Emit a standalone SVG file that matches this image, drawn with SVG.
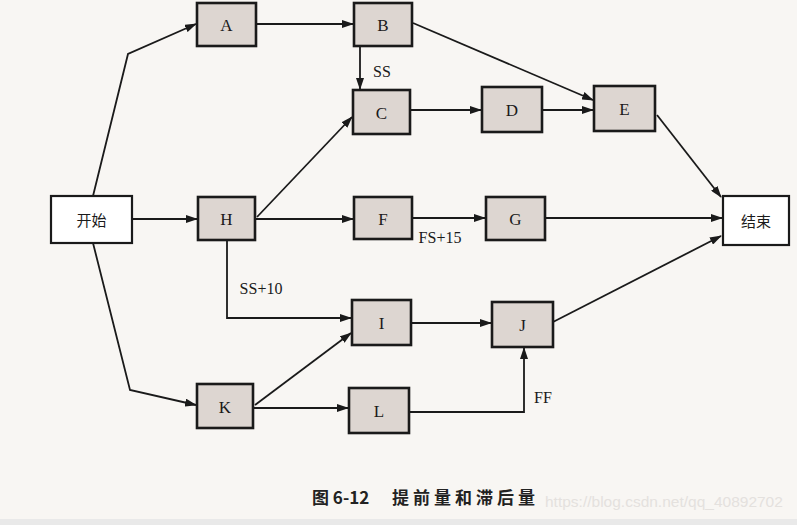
<svg xmlns="http://www.w3.org/2000/svg" width="797" height="525" viewBox="0 0 797 525">
<style>
.bg{fill:#f8f6f3}
.nd{fill:#ddd6d1;stroke:#1a1a1a;stroke-width:2.6}
.pl{fill:#ffffff;stroke:#1a1a1a;stroke-width:2.2}
.t{font-family:"Liberation Serif","Times New Roman",serif;font-size:17px;fill:#1a1a1a;text-anchor:middle;dominant-baseline:central}
.cn{font-family:"Noto Sans CJK SC","Noto Sans",sans-serif;font-size:15px;fill:#1a1a1a;text-anchor:middle;dominant-baseline:central}
.lb{font-family:"Liberation Serif","Times New Roman",serif;font-size:16px;fill:#1a1a1a;text-anchor:middle;dominant-baseline:central}
.cap{font-family:"Noto Sans CJK SC","Noto Sans",sans-serif;font-size:17px;font-weight:bold;fill:#222}
.wm{font-family:"Liberation Sans",Arial,sans-serif;font-size:15.5px;fill:#e4e1de}
.ln{fill:none;stroke:#1a1a1a;stroke-width:1.8}
</style>
<defs>
<marker id="ar" markerUnits="userSpaceOnUse" markerWidth="12" markerHeight="8" refX="11" refY="4" orient="auto">
<path d="M0,0 L12,4 L0,8 Z" fill="#1a1a1a"/>
</marker>
</defs>
<rect class="bg" x="0" y="0" width="797" height="525"/>
<rect x="0" y="519" width="797" height="6" fill="#e9e9e9"/>
<g id="connectors">
<polyline class="ln" points="93,196 128,54 196,24" marker-end="url(#ar)"/>
<line class="ln" x1="256" y1="24" x2="353" y2="24" marker-end="url(#ar)"/>
<line class="ln" x1="360" y1="46" x2="360" y2="89" marker-end="url(#ar)"/>
<line class="ln" x1="413" y1="23" x2="593" y2="100" marker-end="url(#ar)"/>
<line class="ln" x1="410" y1="110" x2="481" y2="110" marker-end="url(#ar)"/>
<line class="ln" x1="542" y1="110" x2="593" y2="110" marker-end="url(#ar)"/>
<line class="ln" x1="657" y1="115" x2="721" y2="197" marker-end="url(#ar)"/>
<line class="ln" x1="132" y1="219" x2="197" y2="219" marker-end="url(#ar)"/>
<line class="ln" x1="257" y1="217" x2="352" y2="117" marker-end="url(#ar)"/>
<line class="ln" x1="255" y1="219" x2="353" y2="219" marker-end="url(#ar)"/>
<line class="ln" x1="412" y1="218" x2="485" y2="218" marker-end="url(#ar)"/>
<line class="ln" x1="545" y1="218" x2="722" y2="218" marker-end="url(#ar)"/>
<polyline class="ln" points="227,240 227,318 351,318" marker-end="url(#ar)"/>
<polyline class="ln" points="93,243 130,390 196,405" marker-end="url(#ar)"/>
<line class="ln" x1="255" y1="405" x2="351" y2="333" marker-end="url(#ar)"/>
<line class="ln" x1="253" y1="408" x2="348" y2="408" marker-end="url(#ar)"/>
<line class="ln" x1="411" y1="323" x2="491" y2="323" marker-end="url(#ar)"/>
<polyline class="ln" points="409,412 524,412 524,348" marker-end="url(#ar)"/>
<line class="ln" x1="553" y1="322" x2="721" y2="236" marker-end="url(#ar)"/>
<text class="lb" x="382" y="71">SS</text>
<text class="lb" x="440" y="237">FS+15</text>
<text class="lb" x="261" y="288">SS+10</text>
<text class="lb" x="543" y="397">FF</text>
</g>
<g id="start"><rect class="pl" x="51" y="196" width="81" height="47"/><text class="cn" x="91.5" y="219.5">开始</text></g>
<g id="A"><rect class="nd" x="197" y="3" width="59" height="43"/><text class="t" x="226.5" y="25">A</text></g>
<g id="B"><rect class="nd" x="354" y="3" width="58" height="43"/><text class="t" x="383" y="25">B</text></g>
<g id="C"><rect class="nd" x="353" y="90" width="57" height="44"/><text class="t" x="381.5" y="113">C</text></g>
<g id="D"><rect class="nd" x="482" y="87" width="60" height="45"/><text class="t" x="512" y="110">D</text></g>
<g id="E"><rect class="nd" x="594" y="86" width="61" height="45"/><text class="t" x="624.5" y="109">E</text></g>
<g id="H"><rect class="nd" x="198" y="197" width="57" height="43"/><text class="t" x="226.5" y="219">H</text></g>
<g id="F"><rect class="nd" x="354" y="197" width="58" height="42"/><text class="t" x="383" y="219">F</text></g>
<g id="G"><rect class="nd" x="486" y="197" width="59" height="43"/><text class="t" x="515.5" y="219">G</text></g>
<g id="end"><rect class="pl" x="723" y="196" width="66" height="49"/><text class="cn" x="756" y="220">结束</text></g>
<g id="I"><rect class="nd" x="352" y="300" width="59" height="45"/><text class="t" x="381.5" y="323">I</text></g>
<g id="J"><rect class="nd" x="492" y="302" width="61" height="45"/><text class="t" x="522.5" y="325">J</text></g>
<g id="K"><rect class="nd" x="197" y="384" width="56" height="44"/><text class="t" x="225" y="407">K</text></g>
<g id="L"><rect class="nd" x="349" y="388" width="60" height="45"/><text class="t" x="379" y="411">L</text></g>
<text class="cap" x="312" y="504">图 6-12</text>
<text class="cap" x="392" y="504" textLength="143">提前量和滞后量</text>
<text class="wm" x="545" y="507">https://blog.csdn.net/qq_40892702</text>
</svg>
